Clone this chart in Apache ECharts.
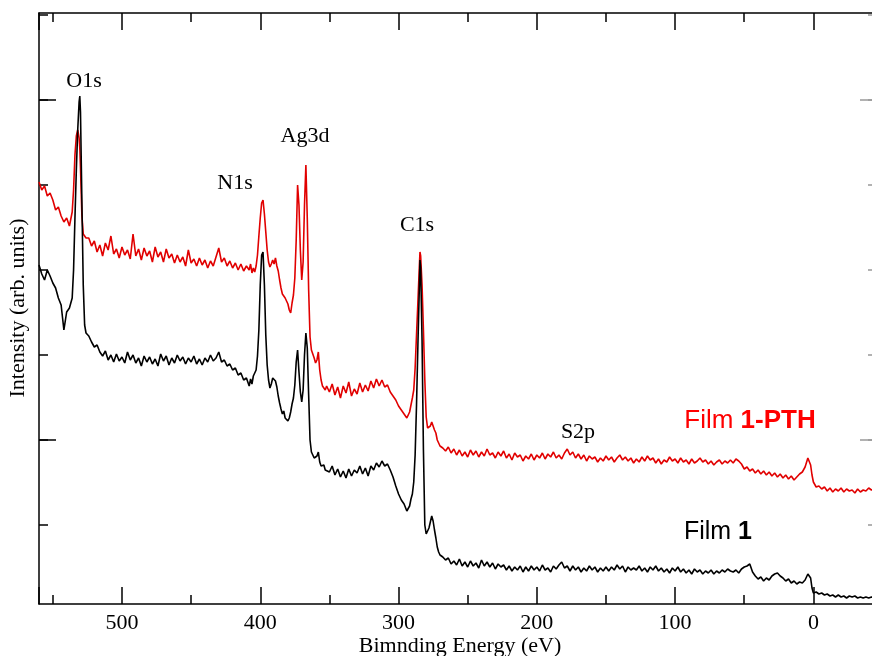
<!DOCTYPE html>
<html>
<head>
<meta charset="utf-8">
<script src="https://cdn.jsdelivr.net/npm/echarts@6/dist/echarts.min.js"></script>
<style>
  html, body { margin: 0; padding: 0; background: #fff; overflow: hidden; }
  /* the frame's right spine sits just past the visible edge */
  #chart { width: 877px; height: 656px; }
</style>
</head>
<body>
<div id="chart"></div>
<script>
// XPS survey spectra: binding energy (eV) and intensity (arb. units)
const bindingEnergy = [
  560,558,556,554,552,550,548,546,544,542,540,538,536,535,534,533,532,531,530.5,530,529,528,527,526,
  524,522,520,518,516,514,512,510,508,506,504,502,500,498,496,494,492,490,488,486,484,482,480,478,476,474,472,470,468,466,464,462,460,458,456,454,452,450,448,446,444,442,440,438,436,434,432,430,428,426,424,422,420,418,416,414,412,410,
  409,408,407,406,405,404,403,402,401,400,399,398,397,396,395,394,393,392,391,390,389,388,387,386,385,384,383,382,381,380,379,378,377,376,375,374,373,372,371,370,369,368,367,366,365,364,363,362,361,360,359,358,357,356,355,354,353,352,
  350,348,346,344,342,340,338,336,334,332,330,328,326,324,322,320,318,316,314,312,310,308,306,304,302,300,298,296,294,292,
  291,290,289,288,287,286,285,284.5,284,283,282,281,280,279,278,277,276,275,274,273,272,271,270,
  268,266,264,262,260,258,256,254,252,250,248,246,244,242,240,238,236,234,232,230,228,226,224,222,220,218,216,214,212,210,208,206,204,202,200,198,196,194,192,190,188,186,184,182,180,178,176,174,172,170,168,166,164,162,160,158,156,154,152,150,148,146,144,142,140,138,136,134,132,130,128,126,124,122,120,118,116,114,112,110,108,106,104,102,100,98,96,94,92,90,88,86,84,82,80,78,76,74,72,70,68,66,64,62,60,
  58,56,54,52,50,48,46,44,42,40,38,36,34,32,30,28,26,24,22,20,18,16,14,12,10,8,6,4,3,2,1,0,-2,-4,-6,-8,-10,-12,-14,-16,-18,-20,-22,-24,-26,-28,-30,-32,-34,-36,-38,-40,-42,-44
];

// Film 1-PTH (red)
const intensityFilm1PTH = [
  598,590,594,584,587,580,570,573,564,558,562,554,568,590,625,644,650,642,632,612,565,546,544,542,
  542,534,539,528,535,524,537,530,544,526,531,522,533,525,530,521,546,524,531,520,532,524,529,518,533,523,528,518,531,522,526,517,525,518,523,514,530,517,521,514,522,515,520,512,519,514,523,532,518,522,514,519,512,517,510,516,509,514,
  514,510,516,507,512,508,514,525,544,562,577,580,566,548,530,518,513,516,520,516,522,514,509,500,492,486,488,482,484,476,470,467,477,485,502,540,595,575,530,500,518,575,615,562,490,443,430,426,422,417,420,428,410,400,394,396,390,394,
  388,396,385,393,382,394,387,398,384,391,386,397,388,395,389,399,392,401,394,400,393,395,388,384,380,374,370,366,362,368,
  375,382,390,412,445,478,512,528,524,495,450,400,363,352,350,354,358,354,350,347,340,337,334,
  332,329,333,327,331,325,330,324,328,323,330,325,329,323,328,324,331,325,327,322,328,324,329,322,326,320,327,323,325,319,324,321,326,320,325,322,327,321,326,323,328,322,325,321,327,331,325,328,322,326,321,325,319,324,321,323,318,322,319,324,320,323,318,322,325,320,323,319,322,317,321,318,323,319,324,320,322,317,321,316,320,318,323,319,321,317,322,318,320,316,321,317,319,322,318,320,316,319,315,318,320,316,319,317,320,
  317,321,319,316,311,313,309,311,307,310,306,309,305,308,304,307,303,306,302,305,301,304,300,303,306,308,313,322,323,315,305,298,293,294,291,293,289,292,288,291,289,292,288,291,289,290,287,291,288,290,289,292,290,291
];

// Film 1 (black)
const intensityFilm1 = [
  515,506,500,510,504,497,492,482,475,450,468,472,482,510,562,610,650,678,684,668,580,495,455,447,
  444,438,433,435,428,424,429,420,425,418,426,419,423,417,428,420,425,417,422,414,424,418,423,416,421,414,426,419,424,415,422,417,425,419,423,416,422,418,424,416,421,415,422,418,425,419,422,428,418,420,414,416,410,412,405,407,400,402,
  398,394,401,396,404,402,410,424,450,495,525,528,495,445,415,400,392,396,402,404,399,393,384,377,371,366,369,362,364,359,362,368,376,382,395,418,430,408,388,378,390,425,447,432,385,340,328,325,322,320,324,328,318,314,312,315,310,312,
  308,314,305,311,303,309,302,311,304,310,307,314,306,312,304,314,310,317,313,319,314,316,310,303,294,286,280,276,269,274,
  281,286,298,325,375,435,490,520,512,440,330,255,246,248,252,258,264,259,250,242,233,228,225,
  223,220,222,216,219,215,221,214,218,213,219,214,217,212,220,214,218,213,217,211,216,213,215,210,214,209,213,210,214,208,213,209,214,210,213,209,215,210,212,208,214,211,215,218,212,214,209,214,210,213,208,212,209,214,210,213,208,212,209,213,209,213,210,215,211,214,208,213,210,212,210,214,209,212,208,213,210,214,209,212,208,211,207,212,209,213,208,211,207,210,206,211,208,210,206,209,207,210,206,209,207,210,208,211,209,
  208,210,207,211,213,214,216,208,204,201,203,199,202,200,204,206,207,204,202,199,201,197,199,196,198,197,200,206,205,202,192,187,188,186,187,185,186,184,185,183,185,183,184,182,184,183,184,182,183,182,183,182,183,182
];

// Axis extents and tick steps (intensity units)
const energyRange = [-46, 560];
const intensityRange = [176, 767];
const minorTickRange = [255, 765];
const majorTickRange = [340, 680];
const minorTickStep = 85;
const majorTickStep = 340;
const xAxisTitle = 'Bimnding Energy (eV)';
const yAxisTitle = 'Intensity (arb. units)';

const serif = 'Liberation Serif, Times New Roman, serif';
const sans = 'Liberation Sans, Arial, sans-serif';
const H = 656;

function pairs(values) {
  return bindingEnergy.map((e, i) => [e, values[i]]);
}

// energy axes (bottom with labels, top mirrored); ticks every 100 eV, minor every 50 eV
function energyAxis(position, showLabel) {
  return {
    type: 'value', gridIndex: 0, position: position, inverse: true,
    min: energyRange[0], max: energyRange[1], splitNumber: 6,
    axisLine: { show: true, onZero: false, lineStyle: { color: '#000', width: 1.5 } },
    axisTick: { show: true, inside: true, length: 17, lineStyle: { color: '#000', width: 1.5 } },
    minorTick: { show: true, splitNumber: 2, length: 9, lineStyle: { color: '#000', width: 1.5 } },
    axisLabel: {
      show: showLabel, margin: 8, color: '#000', fontFamily: serif, fontSize: 22,
      formatter: v => (v % 100 === 0 ? String(v) : '')
    },
    splitLine: { show: false }, minorSplitLine: { show: false }
  };
}

function hiddenX(gridIndex) {
  return { type: 'value', gridIndex: gridIndex, show: false, min: 0, max: 1 };
}

// tick-only intensity axes that live in their own grids
function tickAxis(gridIndex, position, range, step, len, color) {
  return {
    type: 'value', gridIndex: gridIndex, position: position,
    min: range[0], max: range[1], interval: step,
    axisLine: { show: false },
    axisTick: { show: true, inside: true, length: len, lineStyle: { color: color, width: 1.5 } },
    axisLabel: { show: false },
    splitLine: { show: false }
  };
}

function frameAxis(position, color) {
  return {
    type: 'value', gridIndex: 0, position: position,
    min: intensityRange[0], max: intensityRange[1],
    axisLine: { show: true, onZero: false, lineStyle: { color: color, width: 1.5 } },
    axisTick: { show: false }, axisLabel: { show: false }, splitLine: { show: false }
  };
}

function note(text, x, y, size) {
  return {
    type: 'text', x: x, y: y, silent: true,
    style: {
      text: text, fill: '#000', font: size + 'px ' + serif,
      align: 'center', verticalAlign: 'middle',
      textAlign: 'center', textVerticalAlign: 'middle'
    }
  };
}

function legendText(plain, bold, x, y, color, size) {
  return {
    type: 'text', x: x, y: y, silent: true,
    style: {
      text: '{n|' + plain + '}{b|' + bold + '}',
      align: 'center', verticalAlign: 'middle',
      textAlign: 'center', textVerticalAlign: 'middle',
      rich: {
        n: { fill: color, color: color, fontFamily: sans, fontSize: size },
        b: { fill: color, color: color, fontFamily: sans, fontSize: size, fontWeight: 'bold' }
      }
    }
  };
}

const chart = echarts.init(document.getElementById('chart'), null, { renderer: 'canvas' });

chart.setOption({
  animation: false,
  backgroundColor: '#fff',
  grid: [
    { left: 39, right: 0, top: 13, bottom: H - 604, containLabel: false, outerBoundsMode: 'none' },
    { left: 39, right: 0, top: 15, bottom: H - 525, containLabel: false, outerBoundsMode: 'none' },
    { left: 39, right: 0, top: 100, bottom: H - 440, containLabel: false, outerBoundsMode: 'none' }
  ],
  xAxis: [
    energyAxis('bottom', true),
    energyAxis('top', false),
    hiddenX(1),
    hiddenX(2)
  ],
  yAxis: [
    frameAxis('left', '#000'),
    frameAxis('right', '#888'),
    tickAxis(1, 'left', minorTickRange, minorTickStep, 9, '#000'),
    tickAxis(1, 'right', minorTickRange, minorTickStep, 9, '#999'),
    tickAxis(2, 'left', majorTickRange, majorTickStep, 17, '#000'),
    tickAxis(2, 'right', majorTickRange, majorTickStep, 17, '#999')
  ],
  series: [
    {
      name: 'Film 1-PTH', type: 'line', xAxisIndex: 0, yAxisIndex: 0,
      data: pairs(intensityFilm1PTH), showSymbol: false, silent: true,
      lineStyle: { color: '#e10000', width: 1.6 }
    },
    {
      name: 'Film 1', type: 'line', xAxisIndex: 0, yAxisIndex: 0,
      data: pairs(intensityFilm1), showSymbol: false, silent: true,
      lineStyle: { color: '#000', width: 1.6 }
    }
  ],
  graphic: [
    note('O1s', 84, 81, 22),
    note('N1s', 235, 183, 22),
    note('Ag3d', 305, 136, 22),
    note('C1s', 417, 225, 22),
    note('S2p', 578, 432, 22),
    legendText('Film ', '1-PTH', 750, 421, '#ff0000', 26),
    legendText('Film ', '1', 718, 532, '#000', 25),
    note(xAxisTitle, 460, 646, 22),
    Object.assign(note(yAxisTitle, 18, 308, 22), { rotation: Math.PI / 2 })
  ]
});
</script>
</body>
</html>
